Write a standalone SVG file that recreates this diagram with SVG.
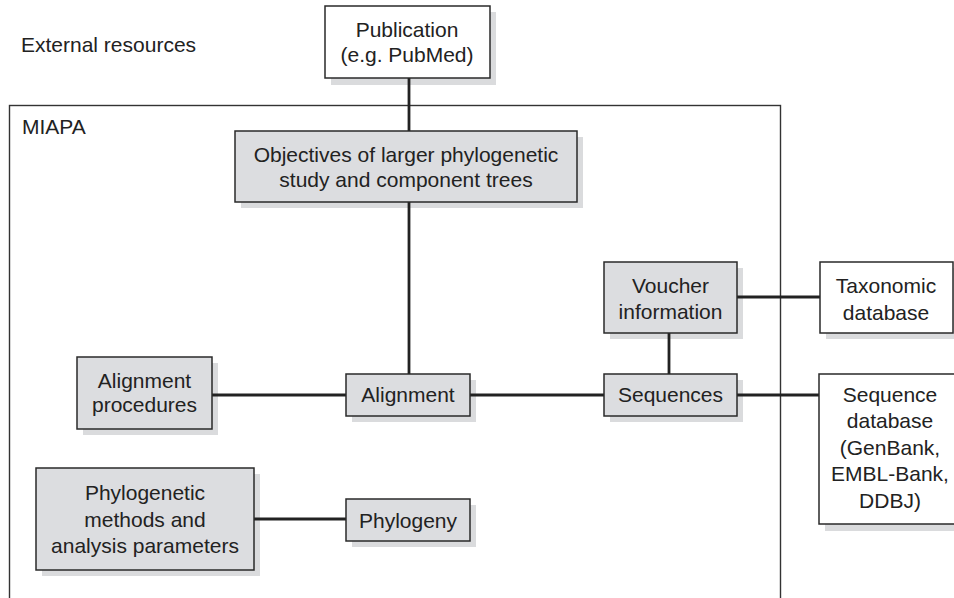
<svg xmlns="http://www.w3.org/2000/svg" width="954" height="598" viewBox="0 0 954 598">
<style>
  text { font-family: "Liberation Sans", Arial, sans-serif; font-size: 21px; fill: #222; text-anchor: middle; }
  .lbl { text-anchor: start; }
  .box { stroke: #2a2a2a; stroke-width: 1.5; }
  .grey { fill: #dcdde0; }
  .white { fill: #ffffff; }
  .shadow { fill: #dadbdd; stroke: none; }
  .frame { fill: none; stroke: #333; stroke-width: 1.4; }
  .conn line { stroke: #222; stroke-width: 2.8; }
</style>
<rect x="0" y="0" width="954" height="598" fill="#ffffff"/>

<g id="external-label">
  <text class="lbl" x="21" y="52">External resources</text>
</g>

<g id="miapa">
  <rect class="frame" x="9.5" y="105.5" width="771" height="520"/>
  <text class="lbl" x="22" y="134">MIAPA</text>
</g>

<g id="shadows">
  <rect class="shadow" x="331" y="12" width="165" height="73"/>
  <rect class="shadow" x="241" y="137" width="342" height="71"/>
  <rect class="shadow" x="83" y="363" width="135" height="72"/>
  <rect class="shadow" x="352" y="380" width="124" height="42"/>
  <rect class="shadow" x="610" y="268" width="133" height="71"/>
  <rect class="shadow" x="610" y="380" width="133" height="42"/>
  <rect class="shadow" x="826" y="268" width="140" height="71"/>
  <rect class="shadow" x="825" y="380" width="140" height="151"/>
  <rect class="shadow" x="42" y="474" width="218" height="102"/>
  <rect class="shadow" x="352" y="505" width="124" height="42"/>
</g>

<g id="connectors" class="conn">
  <line x1="409" y1="78" x2="409" y2="131"/>
  <line x1="409" y1="202" x2="409" y2="374"/>
  <line x1="212" y1="395" x2="346" y2="395"/>
  <line x1="470" y1="395" x2="604" y2="395"/>
  <line x1="669" y1="333" x2="669" y2="374"/>
  <line x1="737" y1="297" x2="820" y2="297"/>
  <line x1="737" y1="395" x2="820" y2="395"/>
  <line x1="254" y1="519" x2="346" y2="519"/>
</g>

<g id="publication">
  <rect class="box white" x="325" y="6" width="165" height="72"/>
  <text x="407" y="37">Publication</text>
  <text x="407" y="62">(e.g. PubMed)</text>
</g>

<g id="objectives">
  <rect class="box grey" x="235" y="131" width="342" height="71"/>
  <text x="406" y="162">Objectives of larger phylogenetic</text>
  <text x="406" y="186.5">study and component trees</text>
</g>

<g id="alignment-procedures">
  <rect class="box grey" x="77" y="357" width="135" height="72"/>
  <text x="144.5" y="388">Alignment</text>
  <text x="144.5" y="412">procedures</text>
</g>

<g id="alignment">
  <rect class="box grey" x="346" y="374" width="124" height="42"/>
  <text x="408" y="402">Alignment</text>
</g>

<g id="voucher">
  <rect class="box grey" x="604" y="262" width="133" height="71"/>
  <text x="670.5" y="292.5">Voucher</text>
  <text x="670.5" y="319">information</text>
</g>

<g id="sequences">
  <rect class="box grey" x="604" y="374" width="133" height="42"/>
  <text x="670.5" y="402">Sequences</text>
</g>

<g id="taxonomic-database">
  <rect class="box white" x="820" y="262" width="133" height="71"/>
  <text x="886" y="293">Taxonomic</text>
  <text x="886" y="319.5">database</text>
</g>

<g id="sequence-database">
  <rect class="box white" x="819" y="374" width="145" height="150"/>
  <text x="890" y="401.5">Sequence</text>
  <text x="890" y="428">database</text>
  <text x="890" y="454.5">(GenBank,</text>
  <text x="890" y="481">EMBL-Bank,</text>
  <text x="890" y="507.5">DDBJ)</text>
</g>

<g id="phylogenetic-methods">
  <rect class="box grey" x="36" y="468" width="218" height="102"/>
  <text x="145" y="500">Phylogenetic</text>
  <text x="145" y="526.5">methods and</text>
  <text x="145" y="553">analysis parameters</text>
</g>

<g id="phylogeny">
  <rect class="box grey" x="346" y="499" width="124" height="42"/>
  <text x="408" y="527.5">Phylogeny</text>
</g>
</svg>
